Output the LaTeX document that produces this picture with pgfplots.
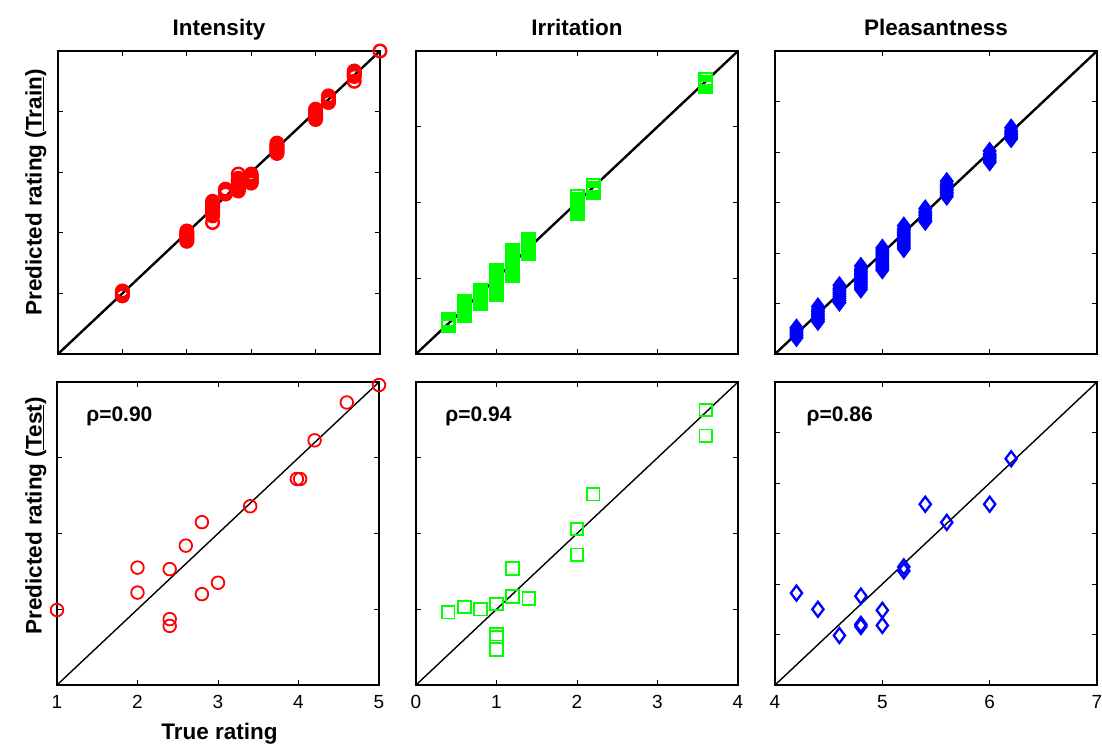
\documentclass[border=0pt]{standalone}
\usepackage{fontspec}
\setmainfont{Liberation Sans}
\usepackage{pgfplots}
\pgfplotsset{compat=1.18}
\definecolor{mred}{RGB}{255,0,0}
\definecolor{mgreen}{RGB}{0,255,0}
\definecolor{mblue}{RGB}{0,0,255}
\pgfplotsset{
 panel/.style={scale only axis, width=322pt, height=303pt, anchor=north west,
   axis line style={line width=1.8pt}, tick align=inside, major tick length=5pt,
   tick style={line width=1pt,black},
   every tick label/.append style={font=\fontsize{19}{19}\selectfont},
   /pgf/number format/assume math mode=true,
   clip=false},
 toprow/.style={xticklabels={}, yticklabels={}},
 bottomrow/.style={yticklabels={}, xticklabel style={yshift=-7pt}},
 trainc/.style={only marks, mark=o, mark size=6.3pt, mred, line width=2.4pt},
 trains/.style={only marks, mark=square, mark size=6.3pt, mgreen, line width=2.4pt},
 traind/.style={only marks, mark=diamond, mark size=7.5pt, mblue, line width=2.4pt},
 testc/.style={only marks, mark=o, mark size=6.3pt, mred, line width=1.8pt},
 tests/.style={only marks, mark=square, mark size=6.3pt, mgreen, line width=1.8pt},
 testd/.style={only marks, mark=diamond, mark size=7.5pt, mblue, line width=2.3pt},
}
\newcommand{\bigbf}{\fontsize{22.5}{27}\selectfont\bfseries}
\begin{document}
\begin{tikzpicture}
\path[use as bounding box] (0,0) rectangle (1102pt,-745pt);
% ---------- top row ----------
\begin{axis}[panel, toprow, at={(58pt,-51pt)}, xmin=0,xmax=5,ymin=0,ymax=5, xtick={1,2,3,4}, ytick={1,2,3,4}]
\addplot[trainc] coordinates {
(1,0.96)(1,0.98)(1,1.0)(1,1.02)(1,1.04)
(2,1.86)(2,1.88)(2,1.9)(2,1.92)(2,1.94)(2,1.96)(2,1.98)(2,2.0)(2,2.03)
(2.4,2.17)(2.4,2.28)(2.4,2.3)(2.4,2.32)(2.4,2.34)(2.4,2.36)(2.4,2.38)(2.4,2.4)(2.4,2.42)(2.4,2.44)(2.4,2.46)(2.4,2.48)(2.4,2.5)(2.4,2.52)
(2.6,2.64)(2.6,2.66)(2.6,2.68)(2.6,2.7)(2.6,2.72)
(2.8,2.69)(2.8,2.71)(2.8,2.73)(2.8,2.75)(2.8,2.77)(2.8,2.79)(2.8,2.81)(2.8,2.83)(2.8,2.85)(2.8,2.87)(2.8,2.9)(2.8,2.97)
(3.0,2.82)(3.0,2.84)(3.0,2.86)(3.0,2.88)(3.0,2.9)(3.0,2.92)(3.0,2.94)(3.0,2.97)
(3.4,3.31)(3.4,3.33)(3.4,3.35)(3.4,3.37)(3.4,3.39)(3.4,3.41)(3.4,3.43)(3.4,3.45)(3.4,3.48)
(4.0,3.87)(4.0,3.89)(4.0,3.91)(4.0,3.93)(4.0,3.95)(4.0,3.97)(4.0,3.99)(4.0,4.01)(4.0,4.04)
(4.2,4.15)(4.2,4.17)(4.2,4.19)(4.2,4.21)(4.2,4.23)(4.2,4.26)
(4.6,4.5)(4.6,4.58)(4.6,4.6)(4.6,4.62)(4.6,4.64)(4.6,4.67)
(5,5)};
\addplot[black, line width=2.4pt] coordinates {(0,0)(5,5)};
\end{axis}
\begin{axis}[panel, toprow, at={(416pt,-51pt)}, xmin=0,xmax=4,ymin=0,ymax=4, xtick={1,2,3}, ytick={1,2,3}]
\addplot[trains] coordinates {
(0.4,0.37)(0.4,0.39)(0.4,0.41)(0.4,0.43)(0.4,0.45)
(0.6,0.51)(0.6,0.54)(0.6,0.57)(0.6,0.6)(0.6,0.63)(0.6,0.66)(0.6,0.69)
(0.8,0.67)(0.8,0.7)(0.8,0.73)(0.8,0.76)(0.8,0.79)(0.8,0.82)(0.8,0.84)
(1.0,0.79)(1.0,0.82)(1.0,0.85)(1.0,0.88)(1.0,0.91)(1.0,0.94)(1.0,0.97)(1.0,1.0)(1.0,1.03)(1.0,1.06)(1.0,1.1)
(1.2,1.04)(1.2,1.07)(1.2,1.1)(1.2,1.13)(1.2,1.16)(1.2,1.19)(1.2,1.22)(1.2,1.25)(1.2,1.28)(1.2,1.31)(1.2,1.34)(1.2,1.36)
(1.4,1.33)(1.4,1.36)(1.4,1.39)(1.4,1.42)(1.4,1.45)(1.4,1.48)(1.4,1.51)
(2.0,1.86)(2.0,1.89)(2.0,1.92)(2.0,1.95)(2.0,1.98)(2.0,2.01)(2.0,2.04)(2.0,2.08)
(2.2,2.13)(2.2,2.16)(2.2,2.19)(2.2,2.23)
(3.6,3.53)(3.6,3.56)(3.6,3.59)(3.6,3.63)};
\addplot[black, line width=2.4pt] coordinates {(0,0)(4,4)};
\end{axis}
\begin{axis}[panel, toprow, at={(775pt,-51pt)}, xmin=4,xmax=7,ymin=4,ymax=7, xtick={5,6}, ytick={4.5,5,5.5,6,6.5}]
\addplot[traind] coordinates {
(4.2,4.16)(4.2,4.18)(4.2,4.2)(4.2,4.22)(4.2,4.24)(4.2,4.26)
(4.4,4.32)(4.4,4.34)(4.4,4.36)(4.4,4.38)(4.4,4.4)(4.4,4.42)(4.4,4.44)(4.4,4.47)
(4.6,4.51)(4.6,4.53)(4.6,4.55)(4.6,4.57)(4.6,4.59)(4.6,4.61)(4.6,4.63)(4.6,4.65)(4.6,4.68)
(4.8,4.64)(4.8,4.66)(4.8,4.68)(4.8,4.7)(4.8,4.72)(4.8,4.74)(4.8,4.76)(4.8,4.78)(4.8,4.8)(4.8,4.82)(4.8,4.84)(4.8,4.87)
(5.0,4.83)(5.0,4.85)(5.0,4.87)(5.0,4.89)(5.0,4.91)(5.0,4.93)(5.0,4.95)(5.0,4.97)(5.0,4.99)(5.0,5.01)(5.0,5.03)(5.0,5.05)
(5.2,5.04)(5.2,5.06)(5.2,5.08)(5.2,5.1)(5.2,5.12)(5.2,5.14)(5.2,5.16)(5.2,5.18)(5.2,5.2)(5.2,5.22)(5.2,5.24)(5.2,5.27)
(5.4,5.31)(5.4,5.33)(5.4,5.35)(5.4,5.37)(5.4,5.39)(5.4,5.41)(5.4,5.44)
(5.6,5.56)(5.6,5.58)(5.6,5.6)(5.6,5.62)(5.6,5.64)(5.6,5.66)(5.6,5.68)(5.6,5.71)
(6.0,5.9)(6.0,5.92)(6.0,5.94)(6.0,5.96)(6.0,5.98)(6.0,6.01)
(6.2,6.13)(6.2,6.15)(6.2,6.17)(6.2,6.19)(6.2,6.21)(6.2,6.24)};
\addplot[black, line width=2.4pt] coordinates {(4,4)(7,7)};
\end{axis}
% ---------- bottom row ----------
\begin{axis}[panel, bottomrow, at={(57pt,-382pt)}, xmin=1,xmax=5,ymin=1,ymax=5, xtick={1,2,3,4,5}, ytick={2,3,4}]
\addplot[testc] coordinates {
(1,1.99)(2,2.55)(2,2.22)(2.4,2.53)(2.4,1.87)(2.4,1.78)(2.6,2.84)(2.8,3.15)
(2.8,2.20)(3,2.35)(3.4,3.36)(3.98,3.72)(4.02,3.72)(4.2,4.23)(4.6,4.73)(5,4.96)};
\addplot[black, line width=1.4pt] coordinates {(1,1)(5,5)};
\node[anchor=west, font=\fontsize{21}{25}\selectfont\bfseries] at (rel axis cs:0.08,0.888) {ρ=0.90};
\end{axis}
\begin{axis}[panel, bottomrow, at={(416pt,-382pt)}, xmin=0,xmax=4,ymin=0,ymax=4, xtick={0,1,2,3,4}, ytick={1,2,3}]
\addplot[tests] coordinates {
(0.4,0.96)(0.6,1.03)(0.8,1.0)(1.0,1.07)(1.0,0.67)(1.0,0.63)(1.0,0.47)(1.2,1.54)
(1.2,1.17)(1.4,1.14)(2.0,2.06)(2.0,1.72)(2.2,2.52)(3.6,3.63)(3.6,3.29)};
\addplot[black, line width=1.4pt] coordinates {(0,0)(4,4)};
\node[anchor=west, font=\fontsize{21}{25}\selectfont\bfseries] at (rel axis cs:0.08,0.888) {ρ=0.94};
\end{axis}
\begin{axis}[panel, bottomrow, at={(775pt,-382pt)}, xmin=4,xmax=7,ymin=4,ymax=7, xtick={4,5,6,7}, ytick={4.5,5,5.5,6,6.5}]
\addplot[testd] coordinates {
(4.2,4.91)(4.4,4.75)(4.6,4.49)(4.8,4.88)(4.8,4.60)(4.8,4.58)(5.0,4.74)(5.0,4.59)
(5.2,5.17)(5.2,5.13)(5.4,5.79)(5.6,5.61)(6.0,5.79)(6.2,6.24)};
\addplot[black, line width=1.4pt] coordinates {(4,4)(7,7)};
\node[anchor=west, font=\fontsize{21}{25}\selectfont\bfseries] at (rel axis cs:0.087,0.888) {ρ=0.86};
\end{axis}
% ---------- titles and labels ----------
\node[anchor=base, font=\bigbf] at (219pt,-35pt) {Intensity};
\node[anchor=base, font=\bigbf] at (577pt,-35pt) {Irritation};
\node[anchor=base, font=\bigbf] at (936pt,-35pt) {Pleasantness};
\node[anchor=base, rotate=90, font=\bigbf] at (41.5pt,-192.5pt) {Predicted rating (\underline{Train})};
\node[anchor=base, rotate=90, font=\bigbf] at (41.5pt,-516pt) {Predicted rating (\underline{Test})};
\node[anchor=base, font=\bigbf] at (219.5pt,-739pt) {True rating};
\end{tikzpicture}
\end{document}
